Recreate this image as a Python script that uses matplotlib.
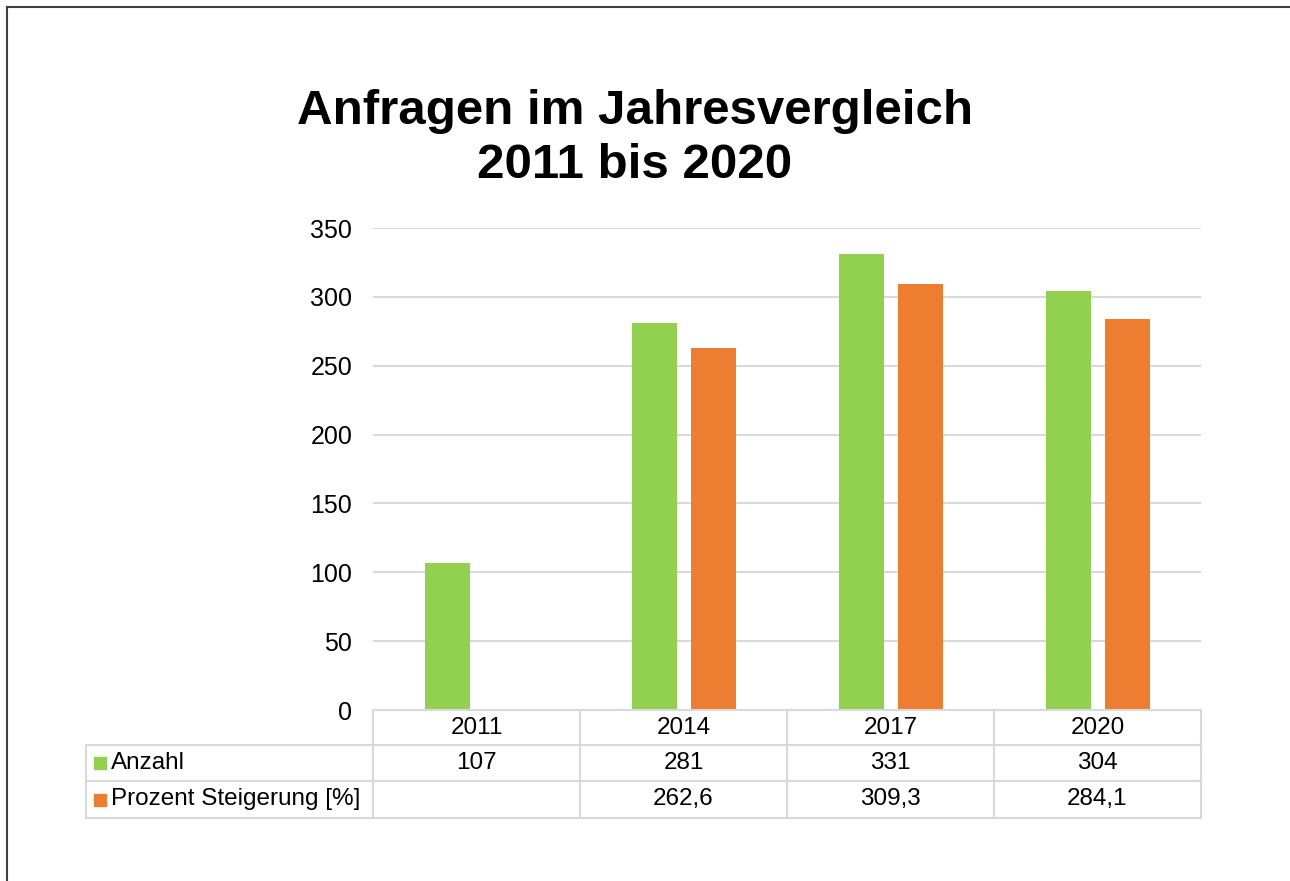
import numpy as np
import matplotlib.pyplot as plt
from matplotlib.lines import Line2D
from matplotlib.patches import Rectangle

plt.rcParams['font.family'] = ['Liberation Sans', 'DejaVu Sans']

# Daten
jahre = ['2011', '2014', '2017', '2020']
anzahl = [107, 281, 331, 304]
prozent = [np.nan, 262.6, 309.3, 284.1]
serien = ['Anzahl', 'Prozent Steigerung [%]']
farben = ['#92d050', '#ed7d31']

W, H = 1290, 881
fig = plt.figure(figsize=(W / 100, H / 100), dpi=100)

def fx(px):
    return px / W

def fy(py):
    return 1 - py / H

# Rahmen (nur links und oben sichtbar)
fig.add_artist(Line2D([fx(7), fx(7)], [fy(7), 0], color='#404040', lw=1.5))
fig.add_artist(Line2D([fx(7), 1], [fy(7), fy(7)], color='#404040', lw=1.5))

# Achse
x0, x1, ytop, ybot = 373, 1201, 228, 710
ax = fig.add_axes([fx(x0), fy(ybot), fx(x1 - x0), (ybot - ytop) / H])
x = np.arange(len(jahre))
breite = 0.222
ax.bar(x - 0.14, anzahl, breite, color=farben[0], zorder=3)
ax.bar(x + 0.145, prozent, breite, color=farben[1], zorder=3)
ax.set_xlim(-0.5, 3.5)
ax.set_ylim(0, 350)
ax.set_yticks(range(0, 351, 50))
ax.yaxis.grid(True, color='#d9d9d9', lw=1.5, zorder=0)
ax.set_xticks([])
for s in ax.spines.values():
    s.set_visible(False)
ax.tick_params(axis='y', length=0, labelsize=18, pad=15)

# Titel
fig.text(fx(635), fy(111), 'Anfragen im Jahresvergleich', ha='center', va='center',
         fontsize=35.5, fontweight='bold')
fig.text(fx(635), fy(166), '2011 bis 2020', ha='center', va='center',
         fontsize=35.5, fontweight='bold')

# Datentabelle
grau = '#d9d9d9'
fs = 17.5
spalten = [x0 + i * (x1 - x0) / 4 for i in range(5)]
zeilen = [710, 745, 781, 818]
links = 86
# horizontale Linien
fig.add_artist(Line2D([fx(x0), fx(x1)], [fy(zeilen[0])] * 2, color=grau, lw=1.5))
for r in zeilen[1:]:
    fig.add_artist(Line2D([fx(links), fx(x1)], [fy(r)] * 2, color=grau, lw=1.5))
# vertikale Linien
fig.add_artist(Line2D([fx(links)] * 2, [fy(zeilen[1]), fy(zeilen[3])], color=grau, lw=1.5))
for c in spalten:
    fig.add_artist(Line2D([fx(c)] * 2, [fy(zeilen[0]), fy(zeilen[3])], color=grau, lw=1.5))

for i, j in enumerate(jahre):
    xc = (spalten[i] + spalten[i + 1]) / 2
    fig.text(fx(xc), fy((zeilen[0] + zeilen[1]) / 2), j, ha='center', va='center', fontsize=fs)
    fig.text(fx(xc), fy((zeilen[1] + zeilen[2]) / 2), str(anzahl[i]), ha='center', va='center', fontsize=fs)
    if not np.isnan(prozent[i]):
        fig.text(fx(xc), fy((zeilen[2] + zeilen[3]) / 2), f'{prozent[i]:.1f}'.replace('.', ','),
                 ha='center', va='center', fontsize=fs)

for k, name in enumerate(serien):
    ym = (zeilen[k + 1] + zeilen[k + 2]) / 2
    fig.add_artist(Rectangle((fx(94), fy(ym + 6)), fx(12), 12 / H, color=farben[k]))
    fig.text(fx(111), fy(ym), name, ha='left', va='center', fontsize=fs)

fig.savefig('out.png', dpi=100)
